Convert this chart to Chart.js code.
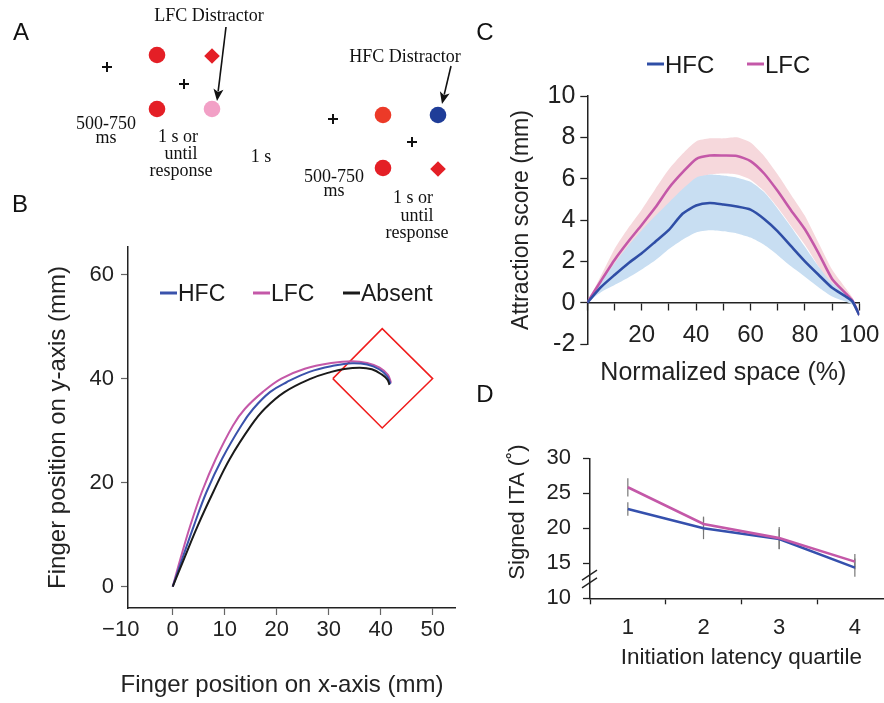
<!DOCTYPE html>
<html><head><meta charset="utf-8">
<script src="https://cdn.jsdelivr.net/npm/chart.js@4.4.0/dist/chart.umd.min.js"></script>
<style>
html,body{margin:0;padding:0;background:#fff;width:884px;height:703px;overflow:hidden;position:relative;}
canvas{position:absolute;left:0;top:0;}
</style></head><body>
<canvas id="cA" width="900" height="703"></canvas>
<canvas id="cB" width="900" height="703"></canvas>
<canvas id="cC" width="900" height="703"></canvas>
<canvas id="cD" width="900" height="703"></canvas>
<script>
// ---------------- Panel A (schematic, units of the panel) ----------------
const aCrosses      = [[107,67],[184,84],[333,119],[412,142]];
const aRedCircles   = [[157,55],[157,109],[383,168]];
const aOrangeCircles= [[383,115]];
const aPinkCircles  = [[212,109]];
const aBlueCircles  = [[438,115]];
const aDiamonds     = [[212,56],[438,169]];
const aArrows       = [[[226,27],[217,101]],[[451,66],[442,104]]];
const aTexts = [
  ['LFC Distractor',209,16],['500-750',106,124],['ms',106,138],
  ['1 s or',178,137],['until',181,154],['response',181,171],['1 s',261,157],
  ['HFC Distractor',405,57],['500-750',334,177],['ms',334,191],
  ['1 s or',413,198],['until',417,216],['response',417,233]
];
const panelLetters = [['A',21,33],['B',20,205],['C',485,33],['D',485,395]];

// ---------------- Panel B (finger trajectories, mm) ----------------
const bLfcX = [0,1.5,3.4,5.6,8.3,11.6,13.9,17.3,20.9,25.4,30.5,34.5,37.4,39.8,41.4,42.0];
const bLfcY = [0,5.4,11.8,18.2,24.6,31.0,34.2,37.4,40.0,41.9,43.0,43.35,43.0,42.1,40.7,39.2];
const bHfcX = [0,1.85,4.1,6.5,9.5,13.2,15.5,18.7,21.9,26.3,31.1,34.5,37.4,39.7,41.2,41.9];
const bHfcY = [0,5.4,11.8,18.2,24.6,31.0,34.2,37.4,39.3,41.3,42.5,42.95,42.7,41.8,40.5,39.0];
const bAbsX = [0,2.2,4.85,7.8,11.0,15.1,17.7,21.5,26.6,30.5,33.0,36.0,38.3,40.2,41.3,41.7];
const bAbsY = [0,5.4,11.8,18.2,24.6,31.0,34.2,37.4,40.0,41.3,41.85,42.1,41.8,40.8,39.8,38.8];
const bTargetX = [30.8,40.3,50.0,40.3,30.8];
const bTargetY = [40.0,49.6,40.0,30.5,40.0];
const bXTicks = [-10,0,10,20,30,40,50];
const bYTicks = [0,20,40,60];

// ---------------- Panel C (attraction score, mm) ----------------
const cX        = [0,5,10,15,20,25,30,35,40,45,50,55,60,65,70,75,80,85,90,95,97.5,100];
const cHfc      = [0,0.75,1.34,1.9,2.39,2.95,3.52,4.3,4.7,4.82,4.75,4.65,4.5,4.05,3.45,2.72,2.0,1.35,0.72,0.3,0.05,-0.6];
const cHfcUpper = [0,1.0,1.9,2.75,3.5,4.2,4.85,5.5,6.05,6.2,6.15,6.05,5.85,5.35,4.55,3.65,2.7,1.75,0.95,0.45,0.15,-0.5];
const cHfcLower = [0,0.5,0.85,1.2,1.6,2.05,2.6,3.05,3.4,3.5,3.45,3.35,3.15,2.8,2.3,1.75,1.26,0.75,0.3,0.05,-0.1,-0.7];
const cLfc      = [0,1.05,2.07,2.95,3.76,4.6,5.55,6.3,6.95,7.12,7.12,7.1,6.85,6.25,5.4,4.45,3.55,2.4,1.15,0.45,0.1,-0.6];
const cLfcUpper = [0,1.3,2.6,3.6,4.5,5.5,6.45,7.2,7.8,7.95,7.95,8.0,7.75,7.1,6.2,5.2,4.2,2.9,1.6,0.7,0.25,-0.5];
const cLfcLower = [0,0.8,1.6,2.4,3.2,3.9,4.7,5.4,6.0,6.2,6.25,6.2,5.95,5.4,4.6,3.7,2.8,1.75,0.65,0.2,-0.05,-0.7];
const cXTicks  = [0,10,20,30,40,50,60,70,80,90,100];
const cXLabels = [20,40,60,80,100];
const cYTicks  = [-2,0,2,4,6,8,10];

// ---------------- Panel D (signed ITA, deg) ----------------
const dQuartiles = ['1','2','3','4'];
const dHfc    = [22.76,20.0,18.48,14.38];
const dLfc    = [25.86,20.62,18.6,15.24];
const dHfcErr = [0.95,1.55,1.45,1.3];
const dLfcErr = [1.3,1.05,1.6,1.1];
const dYTicks = [10,15,20,25,30];
const dBreak  = [12.2,13.3];

// ---------------- styling ----------------
const BLUE = '#3a52ab', PINK = '#c458a8', BLACK = '#1a1a1a';
const SANS = "'Liberation Sans', Arial, Helvetica, sans-serif";
Chart.defaults.font.family = SANS;
Chart.defaults.color = '#1a1a1a';
const zip = (xs, ys) => xs.map((x, i) => ({x, y: ys[i]}));
const fixedTicks = vals => s => { s.ticks = vals.map(v => ({value: v})); };
const base = (pad) => ({
  responsive:false, animation:false, devicePixelRatio:1, events:[],
  layout:{padding:pad, autoPadding:false},
  plugins:{legend:{display:false}, tooltip:{enabled:false}}
});
function freeTitle(id, text, font, x, y, rot){
  return {id, afterDraw(chart){
    const ctx = chart.ctx; ctx.save();
    ctx.translate(x, y); ctx.rotate(rot);
    ctx.font = font; ctx.fillStyle = '#222'; ctx.textAlign = 'center'; ctx.textBaseline = 'middle';
    ctx.fillText(text, 0, 0); ctx.restore();
  }};
}

// ---------- A ----------
const pts = arr => arr.map(p => ({x:p[0], y:p[1]}));
const schematicPlugin = {
  id:'schematic',
  afterDatasetsDraw(chart){
    const {ctx, scales:{x, y}} = chart;
    ctx.save();
    ctx.strokeStyle = '#111'; ctx.fillStyle = '#111'; ctx.lineWidth = 1.6;
    aArrows.forEach(([f, t]) => {
      const x1 = x.getPixelForValue(f[0]), y1 = y.getPixelForValue(f[1]);
      const x2 = x.getPixelForValue(t[0]), y2 = y.getPixelForValue(t[1]);
      const ang = Math.atan2(y2 - y1, x2 - x1), L = 12, W = 5;
      ctx.beginPath(); ctx.moveTo(x1, y1);
      ctx.lineTo(x2 - Math.cos(ang)*L*0.8, y2 - Math.sin(ang)*L*0.8); ctx.stroke();
      ctx.beginPath(); ctx.moveTo(x2, y2);
      ctx.lineTo(x2 - Math.cos(ang)*L - Math.sin(ang)*W, y2 - Math.sin(ang)*L + Math.cos(ang)*W);
      ctx.lineTo(x2 - Math.cos(ang)*L*0.75, y2 - Math.sin(ang)*L*0.75);
      ctx.lineTo(x2 - Math.cos(ang)*L + Math.sin(ang)*W, y2 - Math.sin(ang)*L - Math.cos(ang)*W);
      ctx.closePath(); ctx.fill();
    });
    ctx.font = "18px 'Liberation Serif', 'Times New Roman', serif";
    ctx.textAlign = 'center'; ctx.textBaseline = 'middle';
    aTexts.forEach(([t, tx, ty]) => ctx.fillText(t, x.getPixelForValue(tx), y.getPixelForValue(ty)));
    ctx.font = "24px " + SANS;
    panelLetters.forEach(([t, tx, ty]) => ctx.fillText(t, x.getPixelForValue(tx), y.getPixelForValue(ty)));
    ctx.restore();
  }
};
new Chart(document.getElementById('cA'), {
  type:'scatter',
  data:{datasets:[
    {data:pts(aCrosses), pointStyle:'cross', pointRadius:5, pointBorderWidth:2, pointBorderColor:'#111'},
    {data:pts(aRedCircles), pointStyle:'circle', pointRadius:8.3, pointBackgroundColor:'#e41f26', pointBorderWidth:0},
    {data:pts(aOrangeCircles), pointStyle:'circle', pointRadius:8.3, pointBackgroundColor:'#ec3a28', pointBorderWidth:0},
    {data:pts(aPinkCircles), pointStyle:'circle', pointRadius:8.3, pointBackgroundColor:'#f2a0c6', pointBorderWidth:0},
    {data:pts(aBlueCircles), pointStyle:'circle', pointRadius:8.3, pointBackgroundColor:'#1f3d98', pointBorderWidth:0},
    {data:pts(aDiamonds), pointStyle:'rectRot', pointRadius:7.8, pointBackgroundColor:'#e41f26', pointBorderWidth:0}
  ]},
  options:Object.assign(base({left:0, top:0, right:430, bottom:463}), {
    scales:{x:{type:'linear', min:0, max:470, display:false}, y:{type:'linear', min:0, max:240, reverse:true, display:false}}
  }),
  plugins:[schematicPlugin]
});

// ---------- legend helper ----------
function lineLegend(id, items, y, font){
  return {
    id,
    afterDraw(chart){
      const ctx = chart.ctx;
      ctx.save();
      ctx.font = font; ctx.textBaseline = 'middle'; ctx.textAlign = 'left';
      items.forEach(it => {
        const ds = chart.data.datasets.find(d => d.label === it.label);
        ctx.strokeStyle = ds.borderColor; ctx.lineWidth = 3;
        ctx.beginPath(); ctx.moveTo(it.x, y - 2); ctx.lineTo(it.x + 17, y - 2); ctx.stroke();
        ctx.fillStyle = '#1a1a1a'; ctx.fillText(it.label, it.x + 18, y);
      });
      ctx.restore();
    }
  };
}

// ---------- B ----------
const tickGrey = '#666';
const curve = {showLine:true, borderWidth:2, pointRadius:0, tension:0.4};
new Chart(document.getElementById('cB'), {
  type:'scatter',
  data:{datasets:[
    Object.assign({label:'HFC', data:zip(bHfcX, bHfcY), borderColor:BLUE, order:1}, curve),
    Object.assign({label:'LFC', data:zip(bLfcX, bLfcY), borderColor:PINK, order:2}, curve),
    Object.assign({label:'Absent', data:zip(bAbsX, bAbsY), borderColor:BLACK, order:0}, curve),
    {label:'Target', data:zip(bTargetX, bTargetY), showLine:true, borderColor:'#f01c1c', borderWidth:1.5, pointRadius:0, tension:0, order:3}
  ]},
  options:Object.assign(base({left:0, top:247, right:445, bottom:0}), {
    scales:{
      x:{type:'linear', min:-8.6, max:54.3, afterBuildTicks:fixedTicks(bXTicks), afterFit:s => { s.height = 95; },
         ticks:{autoSkip:false, maxRotation:0, padding:2, font:{size:22}, color:'#222',
                callback:v => v < 0 ? '\u2212' + Math.abs(v) : String(v)},
         grid:{drawOnChartArea:false, tickLength:7, tickWidth:1.2,
               color:c => (c.tick && c.tick.value < -8.6) ? 'rgba(0,0,0,0)' : tickGrey},
         border:{color:'#222', width:1.5},
         title:{display:false}},
      y:{type:'linear', min:-4.1, max:65.3, afterBuildTicks:fixedTicks(bYTicks), afterFit:s => { s.width = 128; },
         ticks:{autoSkip:false, padding:7, font:{size:22}, color:'#222'},
         grid:{drawOnChartArea:false, tickLength:7, tickWidth:1.2, color:tickGrey},
         border:{color:'#222', width:1.5},
         title:{display:true, text:'Finger position on y-axis (mm)', font:{size:24}, color:'#222', padding:{top:43.6, bottom:0}}}
    }
  }),
  plugins:[
    lineLegend('legB', [{label:'HFC', x:160}, {label:'LFC', x:253}, {label:'Absent', x:343}], 295, "23px " + SANS),
    freeTitle('titleBx', 'Finger position on x-axis (mm)', "24px " + SANS, 282, 685, 0)
  ]
});

// ---------- C ----------
new Chart(document.getElementById('cC'), {
  type:'line',
  data:{datasets:[
    {label:'LFC upper', data:zip(cX, cLfcUpper), fill:'+1', backgroundColor:'rgba(246,216,220,1)', borderWidth:0, pointRadius:0, tension:0.2, order:4},
    {label:'LFC lower', data:zip(cX, cLfcLower), fill:false, borderWidth:0, pointRadius:0, tension:0.2, order:4},
    {label:'HFC upper', data:zip(cX, cHfcUpper), fill:'+1', backgroundColor:'rgba(200,222,242,1)', borderWidth:0, pointRadius:0, tension:0.2, order:3},
    {label:'HFC lower', data:zip(cX, cHfcLower), fill:false, borderWidth:0, pointRadius:0, tension:0.2, order:3},
    {label:'LFC', data:zip(cX, cLfc), fill:false, borderColor:PINK, borderWidth:2.6, pointRadius:0, tension:0.2, order:1},
    {label:'HFC', data:zip(cX, cHfc), fill:false, borderColor:'#2f4ea6', borderWidth:2.6, pointRadius:0, tension:0.2, order:0}
  ]},
  options:Object.assign(base({left:470, top:96, right:40.7, bottom:359}), {
    scales:{
      x:{type:'linear', min:0, max:100, position:{y:0}, afterBuildTicks:fixedTicks(cXTicks), afterFit:s => { s.height = 86; },
         ticks:{autoSkip:false, maxRotation:0, padding:11, font:{size:24}, color:'#222',
                callback:v => cXLabels.includes(v) ? String(v) : ''},
         grid:{drawOnChartArea:false, tickLength:7, tickWidth:1.3, color:'#222'},
         border:{color:'#222', width:1.5},
         title:{display:true, text:'Normalized space (%)', font:{size:25}, color:'#222', padding:{top:0, bottom:0.7}}},
      y:{type:'linear', min:-2, max:10, afterBuildTicks:fixedTicks(cYTicks), afterFit:s => { s.width = 117.3; },
         ticks:{autoSkip:false, padding:5, font:{size:25}, color:'#222'},
         grid:{drawOnChartArea:false, tickLength:7, tickWidth:1.3, color:'#222'},
         border:{color:'#222', width:1.5},
         title:{display:true, text:'Attraction score (mm)', font:{size:23}, color:'#222', padding:{top:38, bottom:0}}}
    }
  }),
  plugins:[lineLegend('legC', [{label:'HFC', x:647}, {label:'LFC', x:747}], 66, "24px " + SANS)]
});

// ---------- D ----------
const errorBarPlugin = {
  id:'errbars',
  beforeDatasetsDraw(chart){
    const {ctx, scales:{x, y}} = chart;
    ctx.save(); ctx.strokeStyle = '#777'; ctx.lineWidth = 1.2;
    [[dHfc, dHfcErr], [dLfc, dLfcErr]].forEach(([vals, errs]) => {
      vals.forEach((v, i) => {
        const px = x.getPixelForValue(i);
        ctx.beginPath();
        ctx.moveTo(px, y.getPixelForValue(v - errs[i]));
        ctx.lineTo(px, y.getPixelForValue(v + errs[i]));
        ctx.stroke();
      });
    });
    ctx.restore();
  },
  afterDraw(chart){
    const {ctx, scales:{y}} = chart;
    const ax = chart.chartArea.left;
    ctx.save(); ctx.strokeStyle = '#222'; ctx.lineWidth = 1.4;
    dBreak.forEach(v => {
      const py = y.getPixelForValue(v);
      ctx.beginPath(); ctx.moveTo(ax - 8, py + 5); ctx.lineTo(ax + 7, py - 5); ctx.stroke();
    });
    ctx.restore();
  }
};
new Chart(document.getElementById('cD'), {
  type:'line',
  data:{labels:dQuartiles, datasets:[
    {label:'LFC', data:dLfc, borderColor:PINK, borderWidth:2.6, pointRadius:0, tension:0, order:0},
    {label:'HFC', data:dHfc, borderColor:'#3550ad', borderWidth:2.6, pointRadius:0, tension:0, order:1}
  ]},
  options:Object.assign(base({left:470, top:458.3, right:7.3, bottom:0}), {
    scales:{
      x:{type:'category', offset:true, afterFit:s => { s.height = 104.7; },
         ticks:{padding:10, font:{size:22}, color:'#222'},
         grid:{drawOnChartArea:false, offset:true, tickLength:6, tickWidth:1.3, color:'#222'},
         border:{color:'#222', width:1.5},
         title:{display:true, text:'Initiation latency quartile', font:{size:22.5}, color:'#222', padding:{top:0, bottom:32}}},
      y:{type:'linear', min:10, max:30, afterBuildTicks:fixedTicks(dYTicks), afterFit:s => { s.width = 120; },
         ticks:{autoSkip:false, padding:12, font:{size:22}, color:'#222'},
         grid:{drawOnChartArea:false, tickLength:7, tickWidth:1.3, color:'#222'},
         border:{color:'#222', width:1.5},
         title:{display:false}}
    }
  }),
  plugins:[errorBarPlugin, freeTitle('titleDy', 'Signed ITA (\u02DA)', "22px " + SANS, 518, 512, -Math.PI/2)]
});
</script>
</body></html>
